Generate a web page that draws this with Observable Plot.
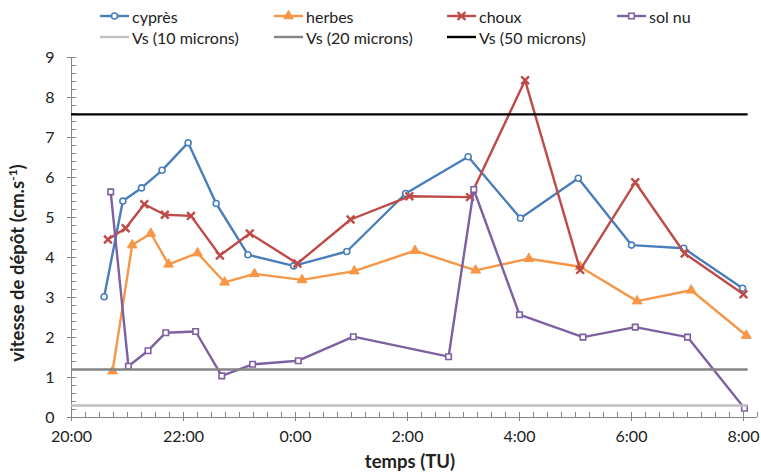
<!DOCTYPE html>
<html><head><meta charset="utf-8">
<script src="https://cdn.jsdelivr.net/npm/d3@7"></script>
<script src="https://cdn.jsdelivr.net/npm/@observablehq/plot@0.6"></script>
<style>
body{margin:0;background:#fff;font-family:Lato,"Open Sans",sans-serif;}
#wrap{position:relative;width:761px;height:473px;overflow:hidden;}
.leg{position:absolute;display:flex;align-items:center;height:20px;font-size:16px;color:#222;white-space:nowrap;}
.leg svg{margin-right:3px;overflow:visible}
</style></head><body><div id="wrap"></div>
<script>
// ---- data ----
const cypresT = ["20:35","20:55","21:15","21:37","22:05","22:35","23:09","23:58","0:55","1:58","3:05","4:01","5:03","6:00","6:56","7:59"];
const cypresV = [3.02,5.41,5.74,6.18,6.87,5.35,4.07,3.79,4.15,5.6,6.52,4.98,5.98,4.31,4.23,3.23];
const herbesT = ["20:44","21:05","21:25","21:44","22:15","22:44","23:16","0:07","1:03","2:08","3:13","4:10","5:05","6:06","7:04","8:03"];
const herbesV = [1.16,4.31,4.6,3.83,4.11,3.38,3.59,3.44,3.66,4.17,3.68,3.97,3.77,2.91,3.18,2.05];
const chouxT = ["20:39","20:58","21:18","21:40","22:08","22:39","23:11","0:02","0:59","2:02","3:07","4:06","5:05","6:04","6:57","8:00"];
const chouxV = [4.45,4.73,5.33,5.07,5.04,4.05,4.6,3.85,4.95,5.53,5.51,8.43,3.69,5.88,4.1,3.08];
const solnuT = ["20:42","21:01","21:22","21:41","22:13","22:41","23:14","0:03","1:02","2:44","3:11","4:00","5:08","6:04","7:00","8:01"];
const solnuV = [5.64,1.28,1.67,2.12,2.15,1.04,1.33,1.42,2.02,1.52,5.7,2.57,2.01,2.26,2.01,0.23];

const vsNames = ["Vs (10 microns)","Vs (20 microns)","Vs (50 microns)"];
const vsValues = [0.3, 1.2, 7.58];
const vsStart = "20:00", vsEnd = "8:05";

const xTickLabels = ["20:00","22:00","0:00","2:00","4:00","6:00","8:00"];
const yTickLabels = [0,1,2,3,4,5,6,7,8,9];
const xStart = "20:00", xEnd = "8:15";

// ---- build ----
const parseT = s => { const [h,m] = s.split(":").map(Number); return new Date(Date.UTC(2000,0,h<12?2:1,h,m)); };
const series = [
  {name:"cyprès", T:cypresT, V:cypresV, color:"#4A7EBB", symbol:"circle", fill:"white", r:3, sw:1.6},
  {name:"herbes", T:herbesT, V:herbesV, color:"#F79646", symbol:"triangle", fill:"#F79646", r:3.6, sw:1},
  {name:"choux", T:chouxT, V:chouxV, color:"#BE4B48", symbol:"times", fill:"none", r:3.6, sw:2.4},
  {name:"sol nu", T:solnuT, V:solnuV, color:"#7D60A0", symbol:"square", fill:"white", r:3.1, sw:1.6}
];
const vsColors = ["#C0C0C0","#848484","#000000"];
const vs = vsNames.map((n,i)=>({name:n, v:vsValues[i], x1:parseT(vsStart), x2:parseT(vsEnd), color:vsColors[i]}));

const xDomain = [parseT(xStart), parseT(xEnd)];
const xTicks = xTickLabels.map(parseT);
const xMinor = d3.utcMinute.every(15).range(xDomain[0], new Date(+xDomain[1]+1));
const yMinor = d3.range(0, 9.001, 0.2);
const axisColor = "#868686";

const marks = [
  Plot.ruleY([0], {stroke:axisColor, strokeWidth:1}),
  Plot.ruleX([xDomain[0]], {stroke:axisColor, strokeWidth:1}),
  Plot.axisY({ticks:yTickLabels, tickSize:0, tickPadding:17, label:null, fontSize:16}),
  Plot.axisY({ticks:yTickLabels, tickSize:9, dx:5, text:null, label:null, stroke:axisColor}),
  Plot.axisY({ticks:yMinor, tickSize:5, dx:5, text:null, label:null, stroke:axisColor}),
  Plot.axisX({ticks:xTicks, tickSize:0, tickPadding:13, label:null, fontSize:16, tickFormat:d=>d3.utcFormat("%-H:%M")(d)}),
  Plot.axisX({ticks:xTicks, tickSize:9, dy:-5, text:null, label:null, stroke:axisColor}),
  Plot.axisX({ticks:xMinor, tickSize:5, dy:-5, text:null, label:null, stroke:axisColor})
];
for (const s of series) {
  const rows = s.T.map((t,i)=>({x:parseT(t), y:s.V[i]}));
  marks.push(Plot.line(rows, {x:"x", y:"y", stroke:s.color, strokeWidth:2.4}));
  marks.push(Plot.dot(rows, {x:"x", y:"y", symbol:s.symbol, r:s.r, stroke:s.color, fill:s.fill, strokeWidth:s.sw}));
}
marks.push(Plot.ruleY(vs, {y:"v", x1:"x1", x2:"x2", stroke:"color", strokeWidth:2.3}));

const chart = Plot.plot({
  width:761, height:473, marginTop:57, marginBottom:56, marginLeft:71, marginRight:4,
  x:{type:"utc", domain:xDomain},
  y:{domain:[0,9]},
  style:{fontFamily:"Lato, 'Open Sans', sans-serif", fontSize:"16px", color:"#222", background:"transparent"},
  marks
});
const wrap = document.getElementById("wrap");
wrap.appendChild(chart);

// axis titles
const svg = d3.select(chart);
const yt = svg.append("text").attr("transform","translate(24,263) rotate(-90)")
  .attr("text-anchor","middle").attr("font-weight","bold").attr("font-size",18.5).attr("fill","#222");
yt.append("tspan").text("vitesse de dépôt (cm.s");
yt.append("tspan").attr("dy",-7).attr("font-size",12).text("-1");
yt.append("tspan").attr("dy",7).text(")");
svg.append("text").attr("x",410).attr("y",468).attr("text-anchor","middle")
  .attr("font-weight","bold").attr("font-size",18.5).attr("fill","#222").text("temps (TU)");

// legend
const colX = [100, 274, 447, 617], rowY = [16, 37];
const legItems = [
  ...series.map(s=>({name:s.name, color:s.color, symbol:s.symbol, fill:s.fill, r:s.r, sw:s.sw})),
  ...vs.map(v=>({name:v.name, color:v.color}))
];
const symMap = {circle:d3.symbolCircle, triangle:d3.symbolTriangle, times:d3.symbolTimes, square:d3.symbolSquare};
legItems.forEach((it,i)=>{
  const row = i < 4 ? 0 : 1, col = i < 4 ? i : i-4;
  const div = document.createElement("div");
  div.className = "leg";
  div.style.left = colX[col]+"px";
  div.style.top = (rowY[row]-10)+"px";
  const s = d3.create("svg").attr("width",29).attr("height",12);
  s.append("line").attr("x1",0).attr("x2",29).attr("y1",6).attr("y2",6).attr("stroke",it.color).attr("stroke-width",2.4);
  if (it.symbol) {
    s.append("path").attr("transform","translate(14.5,6)")
      .attr("d", d3.symbol(symMap[it.symbol], Math.PI*it.r*it.r)())
      .attr("stroke",it.color).attr("fill",it.fill).attr("stroke-width",it.sw);
  }
  div.appendChild(s.node());
  const sp = document.createElement("span"); sp.textContent = it.name;
  div.appendChild(sp);
  wrap.appendChild(div);
});
</script>
</body></html>
